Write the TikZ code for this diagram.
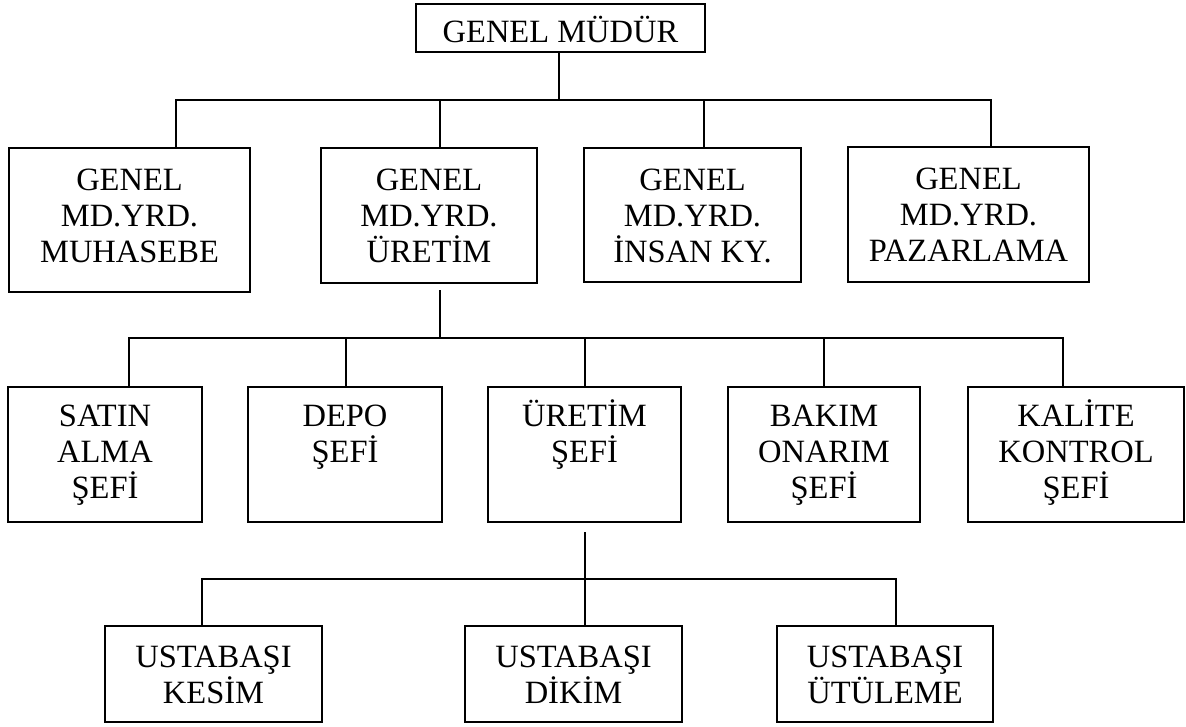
\documentclass[tikz,border=0pt]{standalone}
\usepackage{fontspec}
\setmainfont{Liberation Serif}
\newcommand\capstrut{\rule{0pt}{28pt}}
\begin{document}
\begin{tikzpicture}[x=1pt,y=-1pt,
  unit/.style={draw, line width=1.9pt, inner sep=0pt, outer sep=0pt},
  txt/.style={anchor=north, align=center, inner sep=0pt,
              font=\fontsize{32.5}{36}\selectfont},
  link/.style={line width=1.9pt}]
\useasboundingbox (0,0) rectangle (1186,726);

% ---- top ----
\node[unit, minimum width=289pt, minimum height=48pt] (gm) at (560.5,28) {};
\node[txt] (gmt) at ([yshift=-10pt]gm.north) {\capstrut GENEL MÜDÜR};

% ---- deputies ----
\node[unit, minimum width=241pt, minimum height=144pt] (muh) at (129.5,220) {};
\node[unit, minimum width=216pt, minimum height=135pt] (ure) at (429,215.5) {};
\node[unit, minimum width=217pt, minimum height=134pt] (ins) at (692.5,215) {};
\node[unit, minimum width=241pt, minimum height=135pt] (paz) at (968.5,214.5) {};
\node[txt] (muht) at ([yshift=-14.6pt]muh.north) {\capstrut GENEL\\MD.YRD.\\MUHASEBE};
\node[txt] (uret) at ([yshift=-14.6pt]ure.north) {\capstrut GENEL\\MD.YRD.\\ÜRETİM};
\node[txt] (inst) at ([yshift=-14.6pt]ins.north) {\capstrut GENEL\\MD.YRD.\\İNSAN KY.};
\node[txt] (pazt) at ([yshift=-14.6pt]paz.north) {\capstrut GENEL\\MD.YRD.\\PAZARLAMA};

% ---- chiefs ----
\node[unit, minimum width=194pt, minimum height=135pt] (sat) at (105,454.5) {};
\node[unit, minimum width=194pt, minimum height=135pt] (dep) at (345,454.5) {};
\node[unit, minimum width=193pt, minimum height=135pt] (urs) at (584.5,454.5) {};
\node[unit, minimum width=192pt, minimum height=135pt] (bak) at (824,454.5) {};
\node[unit, minimum width=216pt, minimum height=135pt] (kal) at (1076,454.5) {};
\node[txt] (satt) at ([yshift=-11.6pt]sat.north) {\capstrut SATIN\\ALMA\\ŞEFİ};
\node[txt] (dept) at ([yshift=-11.6pt]dep.north) {\capstrut DEPO\\ŞEFİ};
\node[txt] (urst) at ([yshift=-11.6pt]urs.north) {\capstrut ÜRETİM\\ŞEFİ};
\node[txt] (bakt) at ([yshift=-11.6pt]bak.north) {\capstrut BAKIM\\ONARIM\\ŞEFİ};
\node[txt] (kalt) at ([yshift=-11.6pt]kal.north) {\capstrut KALİTE\\KONTROL\\ŞEFİ};

% ---- foremen ----
\node[unit, minimum width=217pt, minimum height=96pt] (kes) at (213.5,674) {};
\node[unit, minimum width=217pt, minimum height=96pt] (dik) at (573.5,674) {};
\node[unit, minimum width=216pt, minimum height=96pt] (utu) at (885,674) {};
\node[txt] (kest) at ([yshift=-13.6pt]kes.north) {\capstrut USTABAŞI\\KESİM};
\node[txt] (dikt) at ([yshift=-13.6pt]dik.north) {\capstrut USTABAŞI\\DİKİM};
\node[txt] (utut) at ([yshift=-13.6pt]utu.north) {\capstrut USTABAŞI\\ÜTÜLEME};

% ---- connectors ----
\coordinate (bus1) at (559,100);
\coordinate (bus2) at (440,338);
\coordinate (bus3) at (585,579);

\draw[link] (gm.south -| bus1) -- (bus1);
\draw[link] ([xshift=46.5pt]muh.north) |- (bus1) -| ([xshift=22.5pt]paz.north);
\draw[link] ([xshift=11pt]ure.north) -- ([xshift=11pt]ure.north |- bus1);
\draw[link] ([xshift=11.5pt]ins.north) -- ([xshift=11.5pt]ins.north |- bus1);

\draw[link] ([xshift=11pt,yshift=-7pt]ure.south) -- (bus2);
\draw[link] ([xshift=24pt]sat.north) |- (bus2) -| ([xshift=-13pt]kal.north);
\draw[link] ([xshift=1pt]dep.north) -- ([xshift=1pt]dep.north |- bus2);
\draw[link] ([xshift=0.5pt]urs.north) -- ([xshift=0.5pt]urs.north |- bus2);
\draw[link] (bak.north) -- (bak.north |- bus2);

\draw[link] ([xshift=0.5pt,yshift=-10pt]urs.south) -- ([xshift=11.5pt]dik.north);
\draw[link] ([xshift=-11.5pt]kes.north) |- (bus3) -| ([xshift=11pt]utu.north);
\end{tikzpicture}
\end{document}
